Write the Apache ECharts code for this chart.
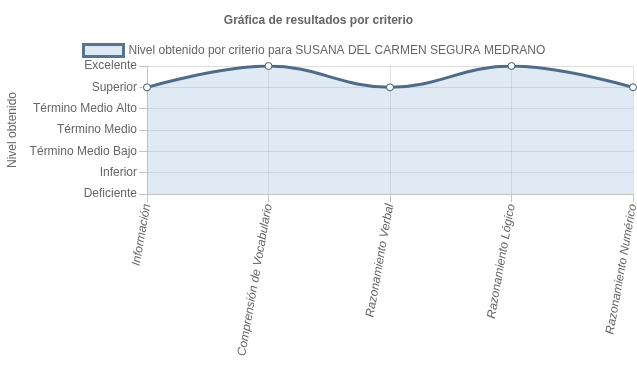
<!DOCTYPE html>
<html>
<head>
<meta charset="utf-8">
<script src="https://cdn.jsdelivr.net/npm/echarts@6/dist/echarts.min.js"></script>
<style>html,body{margin:0;padding:0;background:#fff}#c{width:637px;height:389px}</style>
</head>
<body>
<div id="c"></div>
<script>
const titleText = 'Gráfica de resultados por criterio';
const seriesName = 'Nivel obtenido por criterio para SUSANA DEL CARMEN SEGURA MEDRANO';
const yAxisName = 'Nivel obtenido';
const categories = ['Información', 'Comprensión de Vocabulario', 'Razonamiento Verbal', 'Razonamiento Lógico', 'Razonamiento Numérico'];
const levels = ['Deficiente', 'Inferior', 'Término Medio Bajo', 'Término Medio', 'Término Medio Alto', 'Superior', 'Excelente'];
const values = ['Superior', 'Excelente', 'Superior', 'Excelente', 'Superior'];

const FONT = '"Liberation Sans", Arial, sans-serif';
const chart = echarts.init(document.getElementById('c'));
chart.setOption({
  animation: false,
  title: {
    text: titleText, left: 'center', top: 10,
    textStyle: {fontFamily: FONT, fontSize: 12, fontWeight: 'bold', color: '#666'}
  },
  legend: {
    top: 38, left: 77,
    itemWidth: 40, itemHeight: 12, itemGap: 10,
    data: [{name: seriesName, icon: 'rect', itemStyle: {color: '#dce8f4', borderColor: '#56738f', borderWidth: 3}}],
    textStyle: {fontFamily: FONT, fontSize: 12, color: '#666'}
  },
  grid: {left: 147, right: 4, top: 66, bottom: 195, containLabel: false, outerBoundsMode: 'none'},
  xAxis: {
    type: 'category', data: categories, boundaryGap: false,
    axisLine: {show: true, lineStyle: {color: '#c4c4c4'}},
    axisTick: {show: true, length: 8, lineStyle: {color: '#c4c4c4'}},
    splitLine: {show: true, lineStyle: {color: 'rgba(0,0,0,0.12)'}},
    axisLabel: {rotate: 80, margin: 10, fontFamily: FONT, fontSize: 12, fontStyle: 'italic', color: '#666', interval: 0}
  },
  yAxis: {
    type: 'category', data: levels, boundaryGap: false,
    name: yAxisName, nameLocation: 'middle', nameGap: 128, nameRotate: 90,
    nameTextStyle: {fontFamily: FONT, fontSize: 12, color: '#666'},
    axisLine: {show: true, lineStyle: {color: '#c4c4c4'}},
    axisTick: {show: true, length: 8, lineStyle: {color: '#c4c4c4'}},
    splitLine: {show: true, lineStyle: {color: 'rgba(0,0,0,0.13)'}},
    axisLabel: {margin: 10, fontFamily: FONT, fontSize: 12, color: '#666', interval: 0}
  },
  series: [{
    name: seriesName, type: 'line', smooth: 0.4,
    data: values.map(v => levels.indexOf(v)),
    symbol: 'circle', symbolSize: 7,
    itemStyle: {color: '#fff', borderColor: '#3f5870', borderWidth: 1},
    lineStyle: {color: '#4f6b88', width: 3},
    areaStyle: {color: 'rgba(160,192,222,0.47)', origin: 'start'}
  }]
});
</script>
</body>
</html>
